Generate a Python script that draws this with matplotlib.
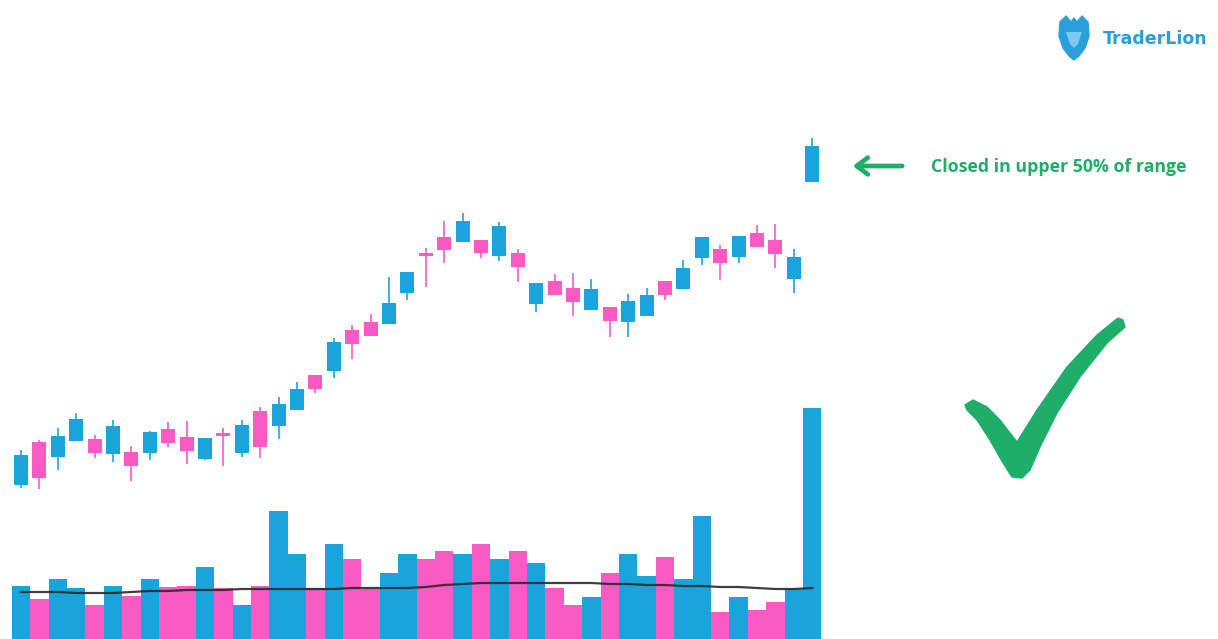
import matplotlib
matplotlib.use("Agg")
import matplotlib.pyplot as plt
from matplotlib.patches import Polygon, FancyArrowPatch
import numpy as np

# ---------------- data ----------------
opens  = [154, 197, 182, 198, 200, 185, 187, 186, 210, 202, 180, 206, 186, 228, 213,
          229, 264, 268, 309, 317, 315, 346, 386, 402, 397, 399, 383, 386, 335, 358,
          351, 329, 332, 317, 323, 358, 350, 381, 390, 382, 406, 399, 360, 457]
closes = [184, 161, 203, 220, 186, 213, 173, 207, 196, 188, 201, 204, 214, 192, 235,
          250, 250, 297, 295, 303, 336, 367, 384, 389, 418, 386, 413, 372, 356, 344,
          337, 350, 318, 338, 344, 344, 371, 402, 376, 403, 392, 385, 382, 493]
highs  = [189, 199, 211, 226, 204, 219, 193, 208, 217, 218, 201, 211, 219, 232, 242,
          257, 264, 301, 314, 325, 362, 367, 391, 418, 426, 399, 417, 390, 356, 365,
          366, 360, 332, 345, 351, 358, 379, 402, 394, 403, 414, 415, 390, 501]
lows   = [151, 150, 169, 198, 181, 177, 158, 179, 192, 175, 179, 173, 182, 181, 200,
          229, 246, 261, 280, 303, 315, 339, 352, 376, 397, 381, 378, 357, 327, 344,
          323, 329, 302, 302, 323, 339, 350, 374, 359, 376, 392, 371, 346, 457]
volume = [53, 40, 60, 51, 34, 53, 43, 60, 52, 53, 72, 51, 34, 53, 128,
          85, 51, 95, 80, 50, 66, 85, 80, 88, 85, 95, 80, 88, 76, 51,
          34, 42, 66, 85, 63, 82, 60, 123, 27, 42, 29, 37, 50, 231]
volume_ma = [47, 47, 47, 46, 46, 46, 47, 48, 48, 49, 49, 49, 50, 50, 50,
             50, 50, 50, 51, 51, 51, 51, 52, 54, 55, 56, 56, 56, 56, 56,
             56, 56, 55, 55, 54, 54, 53, 53, 52, 52, 51, 50, 50, 51]
annotation_text = "Closed in upper 50% of range"
logo_text = "TraderLion"

# ---------------- style ----------------
BLUE = "#19a4dc"
PINK = "#f95ac3"
GREEN = "#1fae69"
W, H = 1218, 639

fig = plt.figure(figsize=(W / 100, H / 100), dpi=100)
fig.patch.set_facecolor("white")

x = np.arange(len(opens))
spacing = 18.4
x0_px = 21
xlim = ((0 - x0_px) / spacing, (W - x0_px) / spacing)

# volume axes
axv = fig.add_axes([0, 0, 1, 1])
axv.set_xlim(*xlim)
axv.set_ylim(0, H)
axv.axis("off")
vcolors = [BLUE if c >= o else PINK for o, c in zip(opens, closes)]
axv.bar(x, volume, width=1.0, color=vcolors, linewidth=0, zorder=1)
axv.plot(x, volume_ma, color="#2a2a2a", lw=1.6, zorder=2, alpha=0.9)

# price axes
ax = fig.add_axes([0, 0, 1, 1], sharex=axv)
ax.patch.set_alpha(0)
ax.set_xlim(*xlim)
ax.set_ylim(0, H)
ax.axis("off")
o = np.array(opens); c = np.array(closes)
bottoms = np.minimum(o, c)
heights = np.maximum(np.abs(c - o), 3)
bottoms = np.where(np.abs(c - o) < 3, (o + c) / 2 - 1.5, bottoms)
ax.vlines(x, lows, highs, colors=vcolors, lw=1.2, zorder=2)
ax.bar(x, heights, bottom=bottoms, width=0.76, color=vcolors, linewidth=0, zorder=3)

# overlay axes in pixel coordinates for decorations
ov = fig.add_axes([0, 0, 1, 1])
ov.patch.set_alpha(0)
ov.set_xlim(0, W)
ov.set_ylim(H, 0)
ov.axis("off")

ov.text(931, 167, annotation_text, color=GREEN, fontsize=12.8, fontweight="bold",
        family="Open Sans", ha="left", va="center")
arrow = FancyArrowPatch((905, 166), (850, 166),
                        arrowstyle="->,head_length=8,head_width=6",
                        color=GREEN, lw=3.4, mutation_scale=1, capstyle="round")
ov.add_patch(arrow)

check = [(965, 405), (973, 400), (987, 407), (1000, 420), (1017, 442), (1037, 410),
         (1067, 367), (1097, 335), (1118, 318), (1123, 320), (1125, 327), (1107, 343),
         (1080, 377), (1057, 413), (1040, 447), (1030, 470), (1022, 478), (1012, 477),
         (1003, 463), (990, 440), (977, 420), (967, 410)]
ov.add_patch(Polygon(check, closed=True, facecolor=GREEN, edgecolor=GREEN,
                     lw=1, joinstyle="round"))

# logo
LOGO = "#2b9fd9"
lion = [(1060, 22), (1066, 16), (1071, 22), (1074, 18), (1077, 22), (1082, 16),
        (1088, 22), (1089, 36), (1085, 48), (1079, 56), (1074, 60), (1069, 56),
        (1063, 48), (1059, 36)]
ov.add_patch(Polygon(lion, closed=True, facecolor=LOGO, edgecolor=LOGO, lw=1))
ov.add_patch(Polygon([(1066, 32), (1082, 32), (1078, 44), (1074, 48), (1070, 44)],
                     closed=True, facecolor="#7cc8ef", edgecolor="none"))
ov.text(1103, 39, logo_text, color=LOGO, fontsize=12.5, fontweight="bold",
        family="DejaVu Sans", ha="left", va="center")

fig.savefig("out.png", dpi=100, facecolor="white")
